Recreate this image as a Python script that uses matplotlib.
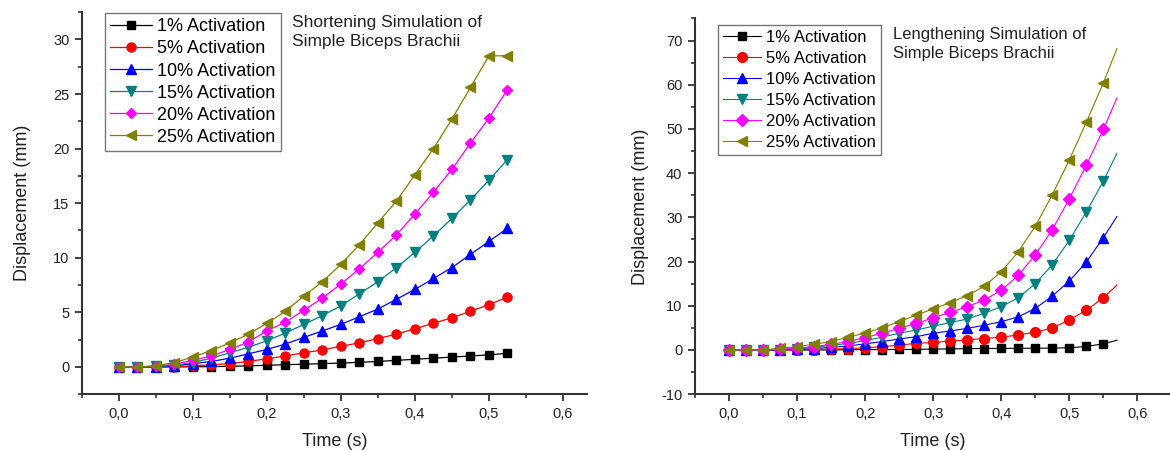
import matplotlib
matplotlib.use('Agg')
import matplotlib.pyplot as plt
from matplotlib.ticker import MultipleLocator, FuncFormatter

plt.rcParams['font.family'] = ['Liberation Sans', 'DejaVu Sans']
plt.rcParams['axes.unicode_minus'] = False

# --- data ---
labels = ['1% Activation', '5% Activation', '10% Activation',
          '15% Activation', '20% Activation', '25% Activation']
colors = ['#000000', '#ff0000', '#0000ff', '#008080', '#ff00ff', '#808000']
markers = ['s', 'o', '^', 'v', 'D', '<']
msizes = [5.5, 6.5, 6.5, 6.5, 5.5, 6.5]

# shortening: 0 .. 0.525 s, step 0.025
t_short = [0, 0.025, 0.05, 0.075, 0.1, 0.125, 0.15, 0.175, 0.2, 0.225, 0.25,
           0.275, 0.3, 0.325, 0.35, 0.375, 0.4, 0.425, 0.45, 0.475, 0.5, 0.525]
short_1 = [0, 0, 0, 0, 0.01, 0.03, 0.05, 0.1, 0.15, 0.2, 0.25, 0.3, 0.35, 0.42,
           0.5, 0.6, 0.7, 0.8, 0.9, 1.0, 1.1, 1.25]
short_5 = [0, 0, 0, 0.03, 0.1, 0.2, 0.3, 0.5, 0.75, 1.0, 1.3, 1.55, 1.9, 2.2,
           2.6, 3.0, 3.5, 4.0, 4.5, 5.1, 5.7, 6.4]
short_10 = [0, 0, 0.02, 0.1, 0.3, 0.5, 0.8, 1.2, 1.6, 2.1, 2.7, 3.3, 3.9, 4.6,
            5.3, 6.2, 7.1, 8.1, 9.1, 10.3, 11.5, 12.7]
short_15 = [0, 0, 0.05, 0.15, 0.4, 0.8, 1.3, 1.8, 2.4, 3.1, 3.9, 4.7, 5.6, 6.7,
            7.8, 9.1, 10.5, 12.0, 13.6, 15.3, 17.1, 19.0]
short_20 = [0, 0, 0.07, 0.25, 0.6, 1.0, 1.6, 2.3, 3.3, 4.1, 5.2, 6.3, 7.6, 9.0,
            10.5, 12.1, 14.0, 16.0, 18.1, 20.5, 22.8, 25.4]
short_25 = [0, 0, 0.1, 0.4, 0.9, 1.5, 2.2, 3.0, 4.0, 5.1, 6.5, 7.8, 9.4, 11.2,
            13.2, 15.2, 17.6, 20.0, 22.7, 25.6, 28.5, 28.5]

# lengthening: markers 0 .. 0.55 s, curve runs on to 0.57 s
t_long = [0, 0.025, 0.05, 0.075, 0.1, 0.125, 0.15, 0.175, 0.2, 0.225, 0.25,
          0.275, 0.3, 0.325, 0.35, 0.375, 0.4, 0.425, 0.45, 0.475, 0.5, 0.525,
          0.55, 0.57]
long_1 = [0, 0, 0, 0, 0, 0, 0.02, 0.05, 0.08, 0.1, 0.12, 0.15, 0.2, 0.25, 0.3,
          0.33, 0.36, 0.38, 0.4, 0.42, 0.5, 0.8, 1.4, 2.2]
long_5 = [0, 0, 0, 0, 0.05, 0.1, 0.2, 0.3, 0.5, 0.75, 1.1, 1.5, 1.7, 2.0, 2.3,
          2.6, 2.9, 3.4, 4.0, 5.0, 6.8, 9.0, 11.8, 14.7]
long_10 = [0, 0, 0, 0.05, 0.15, 0.3, 0.6, 0.9, 1.4, 1.9, 2.5, 3.0, 3.8, 4.3,
           4.9, 5.6, 6.4, 7.5, 9.4, 12.2, 15.6, 19.9, 25.4, 30.2]
long_15 = [0, 0, 0, 0.1, 0.3, 0.6, 1.0, 1.5, 2.1, 2.9, 3.8, 4.5, 5.4, 6.2, 7.0,
           8.3, 9.8, 11.8, 15.0, 19.3, 24.8, 31.2, 38.2, 44.5]
long_20 = [0, 0, 0, 0.15, 0.45, 0.75, 1.3, 1.9, 2.8, 3.8, 4.9, 6.0, 7.3, 8.5,
           9.8, 11.3, 13.5, 16.9, 21.5, 27.2, 34.2, 41.8, 49.9, 57.0]
long_25 = [0, 0, 0, 0.4, 0.75, 1.3, 1.9, 2.9, 3.8, 5.0, 6.4, 7.9, 9.3, 10.7,
           12.3, 14.4, 17.7, 22.2, 28.0, 35.1, 43.0, 51.5, 60.4, 68.2]

short_series = [short_1, short_5, short_10, short_15, short_20, short_25]
long_series = [long_1, long_5, long_10, long_15, long_20, long_25]

W, H = 1170, 450
fig = plt.figure(figsize=(W / 100, H / 100), dpi=100)
ax1 = fig.add_axes([0.070, 0.124, 0.432, 0.849])
ax2 = fig.add_axes([0.594, 0.124, 0.406, 0.835])

comma = FuncFormatter(lambda v, p: ('%.1f' % v).replace('.', ','))


def style_axes(ax, ymajor, yminor, ypad):
    for side in ['top', 'right']:
        ax.spines[side].set_visible(False)
    for side in ['left', 'bottom']:
        ax.spines[side].set_linewidth(1.5)
        ax.spines[side].set_color('#333333')
    ax.xaxis.set_major_locator(MultipleLocator(0.1))
    ax.xaxis.set_minor_locator(MultipleLocator(0.05))
    ax.yaxis.set_major_locator(MultipleLocator(ymajor))
    ax.yaxis.set_minor_locator(MultipleLocator(yminor))
    ax.xaxis.set_major_formatter(comma)
    ax.tick_params(which='major', direction='out', length=5, width=1.3,
                   labelsize=10.5, colors='#333333', labelcolor='#222222',
                   pad=4)
    ax.tick_params(which='minor', direction='out', length=3, width=1.2,
                   colors='#333333')
    ax.set_xlabel('Time (s)', fontsize=13, color='#222222', labelpad=9)
    ax.set_ylabel('Displacement (mm)', fontsize=13, color='#222222',
                  labelpad=ypad)


def legend_at(ax, x0, y0, size, spacing):
    # x0, y0: top-left corner in figure pixels
    leg = ax.legend(loc='upper left', bbox_to_anchor=(x0 / W, 1 - y0 / H),
                    bbox_transform=fig.transFigure, fontsize=size,
                    frameon=True, fancybox=False, edgecolor='#555555',
                    handlelength=2.3, handletextpad=0.3, labelspacing=spacing,
                    borderpad=0.3, borderaxespad=0.0)
    leg.get_frame().set_linewidth(1.0)
    return leg


# left panel: shortening
for ys, lab, c, m, ms in zip(short_series, labels, colors, markers, msizes):
    ax1.plot(t_short, ys, color=c, marker=m, markersize=ms, lw=0.9, label=lab,
             clip_on=False)
ax1.set_xlim(-0.05, 0.633)
ax1.set_ylim(-2.5, 32.5)
style_axes(ax1, 5, 2.5, 16)
legend_at(ax1, 105, 13, 13, 0.28)
fig.text(292 / W, 1 - 15 / H, 'Shortening Simulation of\nSimple Biceps Brachii',
         ha='left', va='top', fontsize=12.5, color='#222222', linespacing=1.3)

# right panel: lengthening (last point has no marker)
n_mark = len(t_long) - 1
for ys, lab, c, m, ms in zip(long_series, labels, colors, markers, msizes):
    ax2.plot(t_long, ys, color=c, marker=m, markersize=ms + 0.5, lw=0.8,
             label=lab, markevery=list(range(n_mark)), clip_on=False)
ax2.set_xlim(-0.05, 0.648)
ax2.set_ylim(-10, 75)
style_axes(ax2, 10, 5, 9)
legend_at(ax2, 718, 25, 12, 0.36)
fig.text(893 / W, 1 - 27 / H, 'Lengthening Simulation of\nSimple Biceps Brachii',
         ha='left', va='top', fontsize=12, color='#222222', linespacing=1.3)

fig.savefig('out.png', dpi=100, facecolor='white')
